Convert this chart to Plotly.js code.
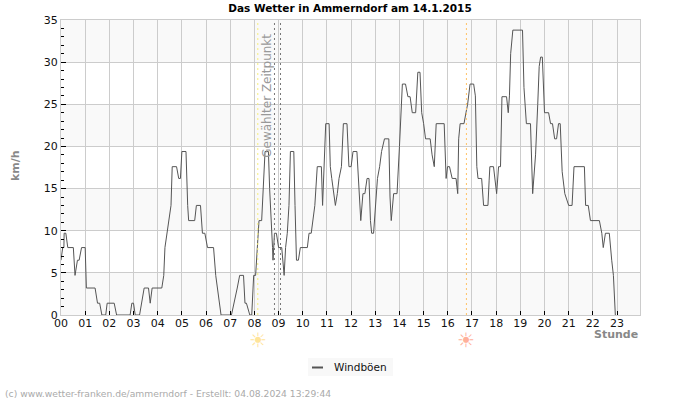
<!DOCTYPE html>
<html><head><meta charset="utf-8">
<script src="https://cdn.plot.ly/plotly-3.0.1.min.js"></script>
<style>html,body{margin:0;padding:0;background:#fff}</style></head>
<body><div id="chart" style="width:700px;height:400px"></div>
<script>
const hours = [0,0.07,0.12,0.13,0.2,0.28,0.51,0.58,0.68,0.75,0.85,1.0,1.05,1.41,1.51,1.6,1.69,1.85,1.91,2.2,2.3,2.86,2.93,3.0,3.07,3.25,3.44,3.62,3.69,3.77,4.17,4.25,4.3,4.38,4.48,4.55,4.6,4.78,4.87,4.94,5.0,5.17,5.24,5.28,5.53,5.6,5.77,5.85,5.95,6.06,6.31,6.4,6.62,7.05,7.29,7.39,7.55,7.61,7.67,7.81,7.89,7.97,8.05,8.14,8.19,8.3,8.39,8.44,8.58,8.63,8.75,8.77,8.83,8.91,9.0,9.13,9.23,9.29,9.36,9.43,9.49,9.63,9.68,9.71,9.74,9.82,9.9,10.19,10.26,10.35,10.42,10.5,10.6,10.77,10.82,10.86,10.9,10.95,11.09,11.14,11.2,11.28,11.35,11.43,11.5,11.6,11.68,11.83,11.91,12.0,12.08,12.24,12.32,12.4,12.49,12.57,12.66,12.74,12.8,12.85,12.93,13.01,13.09,13.18,13.26,13.38,13.56,13.61,13.66,13.76,13.9,14.0,14.08,14.12,14.25,14.35,14.44,14.53,14.67,14.76,14.85,14.92,15.0,15.08,15.27,15.35,15.44,15.52,15.85,15.9,15.93,15.99,16.07,16.18,16.34,16.41,16.45,16.51,16.67,16.75,16.82,16.92,17.07,17.14,17.2,17.25,17.4,17.48,17.66,17.71,17.74,17.89,18.02,18.1,18.18,18.24,18.43,18.5,18.55,18.6,18.69,19.09,19.15,19.25,19.42,19.51,19.63,19.72,19.78,19.84,19.91,20.0,20.17,20.25,20.33,20.42,20.5,20.58,20.65,20.73,20.84,21.0,21.14,21.22,21.65,21.7,21.81,21.9,22.27,22.37,22.43,22.52,22.68,22.78,22.85,22.93];
const gusts = [6.5,8,8,9.7,9.7,8,8,4.7,6.5,6.5,8,8,3.2,3.2,1.4,1.4,0,0,1.4,1.4,0,0,1.4,1.4,0,0,3.2,3.2,1.4,3.2,3.2,4.7,8,9.7,11.2,13,17.6,17.6,16.2,16.2,19.4,19.4,13,11.2,11.2,13,13,9.7,9.7,8,8,4.7,0,0,3.2,4.7,4.7,1.4,1.4,0,0,4.7,4.7,9.7,11.2,11.2,17.6,19.4,19.4,15,8,6.5,9.7,9.7,8,8,4.7,8,9.7,13,19.4,19.4,13,9.7,6.5,6.5,8,8,9.7,9.7,11.2,13,17.6,17.6,13,16,20,22.7,22.7,17.6,16.2,14.4,13,14.4,16.2,17.6,22.7,22.7,17.6,17.6,19.4,19.4,14.4,11.2,14.4,14.4,16.2,16.2,11.2,9.7,9.7,13,16.2,17.6,19.4,20.9,20.9,14,11.2,14.4,14.4,20,25.9,27.4,27.4,25.9,25.9,24,24,28.8,28.8,24,22.7,20.9,20.9,19,17.6,22.7,22.7,17.6,16.2,17.6,17.6,16.2,16.2,14.4,20.9,22.7,22.7,24,25,27.4,27.4,26,17.6,16.2,16.2,13,13,16,17.6,17.6,14.4,17.6,17.6,25.9,25.9,24,26,31,33.8,33.8,27,22.7,22.7,14.4,19,25,29.5,30.6,30.6,24,24,22.7,22.7,20.9,20.9,22.7,22.7,17,14.4,13,13,17.6,17.6,13,13,11.2,11.2,9.7,8,9.7,9.7,6.5,4.7,0];
const hourLabels = ["00","01","02","03","04","05","06","07","08","09","10","11","12","13","14","15","16","17","18","19","20","21","22","23"];
const hourTicks = [0,1,2,3,4,5,6,7,8,9,10,11,12,13,14,15,16,17,18,19,20,21,22,23];
const bandStarts = [0,10,20,30];
const sunriseHour = 8.14, sunsetHour = 16.77;
const selectedHours = [8.83, 9.08];
const xMax = 23.95;

const W = 700, H = 400;
const shapes = [];
bandStarts.forEach(b => shapes.push({type:'rect',xref:'x',yref:'y',x0:0,x1:xMax,y0:b,y1:b+5,fillcolor:'#f9f9f9',line:{width:0},layer:'below'}));
shapes.push({type:'line',xref:'x',yref:'y',x0:sunriseHour,x1:sunriseHour,y0:0,y1:35,line:{color:'#f7ee7a',width:1,dash:'2px,3px'}});
shapes.push({type:'line',xref:'x',yref:'y',x0:sunsetHour,x1:sunsetHour,y0:0,y1:35,line:{color:'#ffc266',width:1,dash:'2px,3px'}});
selectedHours.forEach(h => shapes.push({type:'line',xref:'x',yref:'y',x0:h,x1:h,y0:0,y1:35,line:{color:'#777777',width:1,dash:'2px,3px'}}));
const px = v => (v-61)/579, py = v => (315-v)/295;
shapes.push({type:'rect',xref:'paper',yref:'paper',x0:px(308),x1:px(393),y0:py(358),y1:py(376),fillcolor:'#f8f8f8',line:{width:0},layer:'below'});
shapes.push({type:'line',xref:'paper',yref:'paper',x0:px(312),x1:px(323),y0:py(367.5),y1:py(367.5),line:{color:'#555555',width:2}});

const traces = [
 {x:hours,y:gusts,type:'scatter',mode:'lines',name:'Windböen',line:{color:'#555555',width:1},showlegend:false,hoverinfo:'skip'}
];
const font = 'DejaVu Sans, sans-serif';
const layout = {
 width:W,height:H,paper_bgcolor:'#ffffff',plot_bgcolor:'#ffffff',
 margin:{l:61,r:60,t:20,b:85,pad:0},
 font:{family:font,size:11,color:'#111'},
 title:{text:'<b>Das Wetter in Ammerndorf am 14.1.2015</b>',font:{family:font,size:10.5,color:'#000'},x:350/700,xref:'container',xanchor:'center',y:0.9875,yref:'container',yanchor:'top',pad:{t:0}},
 xaxis:{range:[0,xMax],tickmode:'array',tickvals:hourTicks,ticktext:hourLabels,ticks:'inside',ticklen:4,tickcolor:'#000',tickwidth:1,ticklabelstandoff:-2,showgrid:true,gridcolor:'#cccccc',gridwidth:1,zeroline:false,showline:true,linecolor:'#cccccc',mirror:true,tickfont:{family:font,size:11,color:'#111'},fixedrange:true},
 yaxis:{range:[0,35],tickmode:'linear',tick0:0,dtick:5,ticks:'inside',ticklen:5,tickcolor:'#000',tickwidth:1,showgrid:true,gridcolor:'#cccccc',gridwidth:1,zeroline:false,showline:true,linecolor:'#cccccc',mirror:true,tickfont:{family:font,size:11,color:'#111'},minor:{dtick:1,ticks:'inside',ticklen:3,tickcolor:'#000',tickwidth:1,showgrid:false},fixedrange:true},
 shapes:shapes,
 showlegend:false,
 annotations:[
  {xref:'x',yref:'paper',x:8.51,y:1,text:'Gewählter Zeitpunkt',textangle:-90,showarrow:false,xanchor:'center',yanchor:'top',yshift:-12,font:{family:font,size:12,color:'#999999'}},
  {xref:'paper',yref:'paper',x:px(15),y:py(166),text:'<b>km/h</b>',textangle:-90,showarrow:false,xanchor:'center',yanchor:'middle',font:{family:font,size:11,color:'#888888'}},
  {xref:'paper',yref:'paper',x:px(639.5),y:py(334.5),text:'<b>Stunde</b>',showarrow:false,xanchor:'right',yanchor:'middle',font:{family:font,size:11,color:'#888888'}},
  {xref:'paper',yref:'paper',x:px(3),y:py(393),text:'(c) www.wetter-franken.de/ammerndorf - Erstellt: 04.08.2024 13:29:44',showarrow:false,xanchor:'left',yanchor:'middle',font:{family:font,size:9.2,color:'#aaaaaa'}},
  {xref:'paper',yref:'paper',x:px(332),y:py(366.5),text:'Windböen',showarrow:false,xanchor:'left',yanchor:'middle',font:{family:font,size:10.5,color:'#111111'}},
  {xref:'x',yref:'paper',x:sunriseHour,y:py(340),text:'☀',showarrow:false,xanchor:'center',yanchor:'middle',font:{family:font,size:20,color:'#ffe49a'}},
  {xref:'x',yref:'paper',x:sunsetHour,y:py(340),text:'☀',showarrow:false,xanchor:'center',yanchor:'middle',font:{family:font,size:20,color:'#ffb09a'}}
 ]
};
Plotly.newPlot('chart',traces,layout,{displayModeBar:false,staticPlot:true});
</script></body></html>
